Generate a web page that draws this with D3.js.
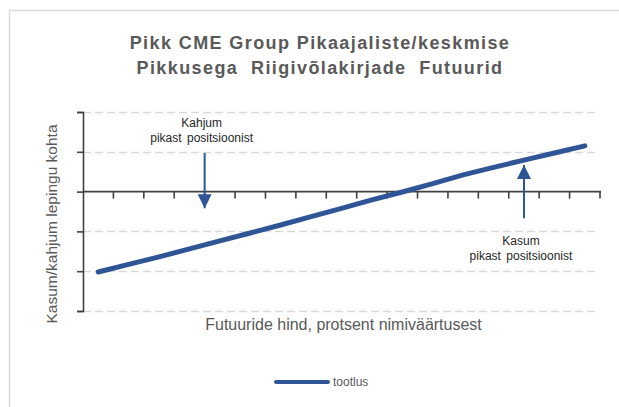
<!DOCTYPE html>
<html>
<head>
<meta charset="utf-8">
<script src="https://cdn.jsdelivr.net/npm/d3@7"></script>
<style>
  body { margin: 0; background: #fff; font-family: "Liberation Sans", Arial, sans-serif; }
</style>
</head>
<body>
<div id="chart"></div>
<script>
// data
var categories = ["1","2","3","4","5","6","7","8","9","10","11","12","13","14","15","16","17"];
var tootlus = [-2.02, -1.83, -1.64, -1.44, -1.24, -1.04, -0.84, -0.63, -0.42, -0.21, -0.01, 0.20, 0.42, 0.61, 0.79, 0.97, 1.15];
var yTicks = [-3, -2, -1, 0, 1, 2];
var titleLines = ["Pikk CME Group Pikaajaliste/keskmise", "Pikkusega  Riigivõlakirjade  Futuurid"];
var xTitle = "Futuuride hind, protsent nimiväärtusest";
var yTitle = "Kasum/kahjum lepingu kohta";
var legendLabel = "tootlus";
// annotations: category index, arrow start/end value, text lines
var notes = [
  {cat: 4, edge: true, from: 0.97, to: -0.42, lines: ["Kahjum", "pikast positsioonist"], textY: 1.62},
  {cat: 14, edge: false, from: -0.67, to: 0.67, lines: ["Kasum", "pikast positsioonist"], textY: -1.35}
];

var width = 619, height = 407;
var blue = "#2F5597", grey = "#595959";
var plot = {left: 83, right: 600, top: 112, bottom: 311};

var svg = d3.select("#chart").append("svg")
    .attr("width", width).attr("height", height);

// chart frame
svg.append("rect")
    .attr("x", 9.5).attr("y", 10.5)
    .attr("width", 640).attr("height", 420)
    .attr("fill", "#fff")
    .attr("stroke", "#D9D9D9").attr("stroke-width", 1.5);

var x = d3.scaleBand().domain(categories).range([plot.left, plot.right]);
var y = d3.scaleLinear().domain([-3, 2]).range([plot.bottom, plot.top]);

// gridlines
svg.append("g").selectAll("line")
    .data(yTicks.filter(function(d) { return d !== 0; }))
    .enter().append("line")
    .attr("x1", plot.left).attr("x2", plot.right - 3)
    .attr("y1", function(d) { return Math.round(y(d)) + 0.5; })
    .attr("y2", function(d) { return Math.round(y(d)) + 0.5; })
    .attr("stroke", "#D9D9D9").attr("stroke-width", 1.5)
    .attr("stroke-dasharray", "8,4");

// y axis
var yAxis = svg.append("g")
    .attr("transform", "translate(" + plot.left + ",0)")
    .call(d3.axisLeft(y).tickValues(yTicks).tickSize(6).tickFormat(""));
yAxis.selectAll("path, line").attr("stroke", "#404040").attr("stroke-width", 1.6);

// x axis at zero, ticks at category boundaries
var boundaries = categories.map(function(c) { return x(c); }).concat([plot.right]);
var xAxis = svg.append("g");
xAxis.append("line")
    .attr("x1", plot.left).attr("x2", plot.right + 1)
    .attr("y1", y(0)).attr("y2", y(0))
    .attr("stroke", "#404040").attr("stroke-width", 1.6);
xAxis.selectAll("line.tick")
    .data(boundaries.slice(1))
    .enter().append("line").attr("class", "tick")
    .attr("x1", function(d) { return d; }).attr("x2", function(d) { return d; })
    .attr("y1", y(0)).attr("y2", y(0) + 7)
    .attr("stroke", "#404040").attr("stroke-width", 1.6);

// series line
var line = d3.line()
    .x(function(d, i) { return x(categories[i]) + x.bandwidth() / 2; })
    .y(function(d) { return y(d); });
svg.append("path")
    .datum(tootlus)
    .attr("d", line)
    .attr("fill", "none")
    .attr("stroke", blue).attr("stroke-width", 5)
    .attr("stroke-linecap", "round").attr("stroke-linejoin", "round");

// annotations
var defs = svg.append("defs");
defs.append("marker")
    .attr("id", "head")
    .attr("viewBox", "0 0 10 10")
    .attr("refX", 10).attr("refY", 5)
    .attr("markerWidth", 7).attr("markerHeight", 7.5)
    .attr("markerUnits", "strokeWidth")
    .attr("orient", "auto")
    .append("path").attr("d", "M0,0 L10,5 L0,10 Z").attr("fill", blue);

notes.forEach(function(n) {
  var ax = n.edge ? x(categories[n.cat]) : x(categories[n.cat]) + x.bandwidth() / 2;
  svg.append("line")
      .attr("x1", ax).attr("x2", ax)
      .attr("y1", y(n.from)).attr("y2", y(n.to))
      .attr("stroke", blue).attr("stroke-width", 2)
      .attr("marker-end", "url(#head)");
  var t = svg.append("text")
      .attr("text-anchor", "middle")
      .attr("font-size", 12).attr("fill", "#262626")
      .attr("word-spacing", 2);
  n.lines.forEach(function(s, i) {
    t.append("tspan").attr("x", ax - 3).attr("y", y(n.textY) + i * 15).text(s);
  });
});

// title
var title = svg.append("text")
    .attr("text-anchor", "middle")
    .attr("font-size", 18).attr("font-weight", "bold")
    .attr("fill", grey)
    .attr("letter-spacing", 1.4)
    .style("white-space", "pre");
titleLines.forEach(function(s, i) {
  title.append("tspan").attr("x", 320).attr("y", 49 + i * 25).text(s);
});

// axis titles
svg.append("text")
    .attr("x", (plot.left + plot.right) / 2 + 2).attr("y", 330)
    .attr("text-anchor", "middle")
    .attr("font-size", 16).attr("fill", grey)
    .text(xTitle);

svg.append("text")
    .attr("transform", "translate(57," + 224 + ") rotate(-90)")
    .attr("text-anchor", "middle")
    .attr("font-size", 15.5).attr("fill", grey)
    .text(yTitle);

// legend
var lg = svg.append("g").attr("transform", "translate(276,382)");
lg.append("line")
    .attr("x1", 0).attr("x2", 52).attr("y1", 0).attr("y2", 0)
    .attr("stroke", blue).attr("stroke-width", 4).attr("stroke-linecap", "round");
lg.append("text")
    .attr("x", 57).attr("y", 4)
    .attr("font-size", 12).attr("fill", grey)
    .text(legendLabel);
</script>
</body>
</html>
